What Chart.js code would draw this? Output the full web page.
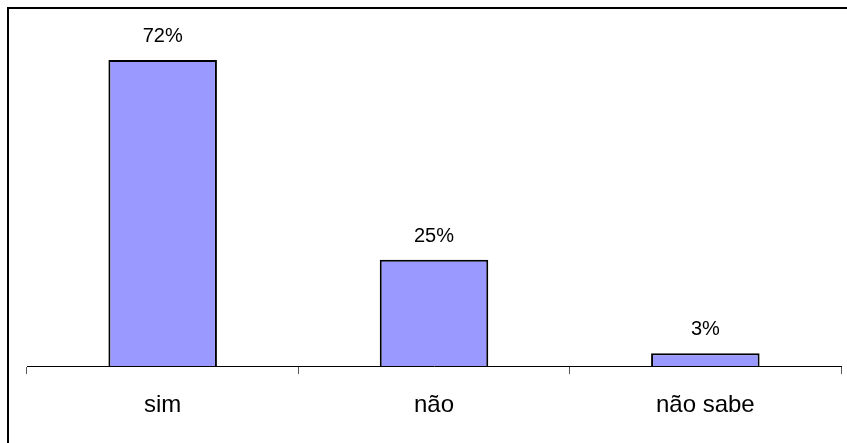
<!DOCTYPE html>
<html>
<head>
<meta charset="utf-8">
<script src="https://cdn.jsdelivr.net/npm/chart.js@4/dist/chart.umd.min.js"></script>
<style>
    html, body { margin: 0; padding: 0; background: #fff; }
    #wrap { position: relative; width: 847px; height: 443px; }
    #frame { position: absolute; left: 7px; top: 7px; right: -2px; bottom: -2px; border-left: 2px solid #000; border-top: 2px solid #000; }
    canvas { position: absolute; left: 0; top: 0; }
</style>
</head>
<body>
<div id="wrap">
    <div id="frame"></div>
    <canvas id="myChart" width="847" height="443"></canvas>
</div>
<script>
const categories = ['sim', 'não', 'não sabe'];
const values = [72, 25, 3];
const yMax = 80;

// percentages written above the bars
const barLabels = {
    id: 'barLabels',
    afterDatasetsDraw: function (chart) {
        const c = chart.ctx;
        c.save();
        c.font = '20px "Liberation Sans", Arial, sans-serif';
        c.fillStyle = '#000';
        c.textAlign = 'center';
        c.textBaseline = 'alphabetic';
        chart.getDatasetMeta(0).data.forEach(function (bar, i) {
            c.fillText(values[i] + '%', bar.x, bar.y - 18);
        });
        c.restore();
    }
};

const ctx = document.getElementById('myChart');
let myChart = new Chart(ctx, {
    type: 'bar',
    data: {
        labels: categories,
        datasets: [{
            data: values,
            backgroundColor: '#9999ff',
            borderColor: '#000',
            borderWidth: 2,
            borderSkipped: 'bottom',
            barPercentage: 0.4,
            categoryPercentage: 1
        }]
    },
    options: {
        responsive: false,
        animation: false,
        layout: {padding: {left: 27, right: 6, top: 26, bottom: 0}},
        plugins: {legend: {display: false}, tooltip: {enabled: false}},
        scales: {
            y: {display: false, min: 0, max: yMax},
            x: {
                afterFit: function (scale) { scale.height = 443 - 366; },
                border: {display: true, color: '#000', width: 1},
                grid: {offset: true, drawOnChartArea: false, drawTicks: true, tickLength: 8, color: '#555'},
                ticks: {
                    color: '#000',
                    padding: 17,
                    maxRotation: 0,
                    font: {family: '"Liberation Sans", Arial, sans-serif', size: 24}
                }
            }
        }
    },
    plugins: [barLabels]
});
</script>
</body>
</html>
